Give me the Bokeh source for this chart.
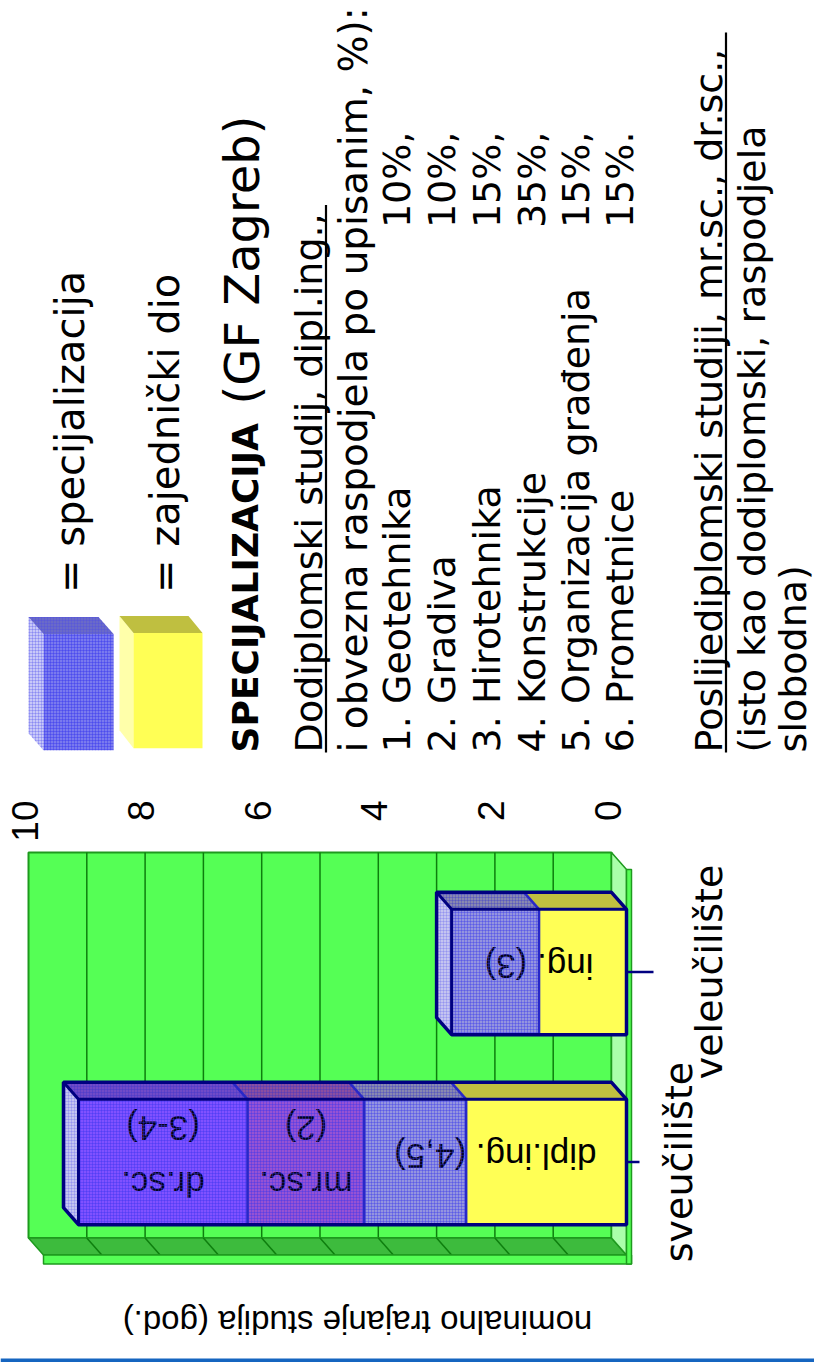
import math
from bokeh.plotting import figure
from bokeh.models import Range1d, LinearAxis, FixedTicker
from bokeh.layouts import column
from bokeh.core.properties import value
from bokeh.embed import file_html
from bokeh.resources import INLINE

# ---------------- data ----------------
categories = ["sveučilište", "veleučilište"]
zajednicki_dio = [2.75, 1.5]
specijalizacija = [1.75, 1.5]
mr_sc = [2.0, 0.0]
dr_sc = [2.9, 0.0]
bar_labels = ["dipl.ing. (4,5)", "ing. (3)"]
mr_labels = ["mr.sc.\n(2)", ""]
dr_labels = ["dr.sc.\n(3-4)", ""]
value_ticks = [0, 2, 4, 6, 8, 10]
value_max = 10
axis_title = "nominalno trajanje studija (god.)"
legend_labels = ["=  specijalizacija", "=  zajednički dio"]
spec_title = "SPECIJALIZACIJA"
spec_subtitle = "(GF Zagreb)"
dodipl_heading = "Dodiplomski studij, dipl.ing.,"
dodipl_intro = "i obvezna raspodjela po upisanim, %):"
smjerovi = ["1. Geotehnika", "2. Gradiva", "3. Hirotehnika", "4. Konstrukcije",
            "5. Organizacija građenja", "6. Prometnice"]
udjeli = ["10%,", "10%,", "15%,", "35%,", "15%,", "15%."]
poslijedipl_heading = "Poslijediplomski studiji, mr.sc., dr.sc.,"
poslijedipl_text = ["(isto kao dodiplomski, raspodjela", "slobodna)"]

# ---------------- layout constants ----------------
W = 814
H_TOP = 844
AXIS_H = 46
H_CHART = 518
CHART_Y0 = H_TOP

FRONT0_PX = 626.0      # screen x of value 0 (bar front plane)
PX_PER_V = 58.3
LBL0_PX = 607.0        # screen x of tick label 0
CAT0_PY = 1161.5
PY_PER_C = 190.0


def px2v(px):
    return (FRONT0_PX - px) / PX_PER_V


def py2c(py):
    return (CAT0_PY - py) / PY_PER_C


def lbl_v(px):
    return (LBL0_PX - px) / PX_PER_V


DV = 15.0 / PX_PER_V
DC = 17.0 / PY_PER_C
HW = 0.33
C_LO, C_HI = -0.49, 1.54

ROT_FONT = value("DejaVu Sans")
HOR_FONT = value("Liberation Sans")

# ---------------- top figure (legend + text) ----------------
top = figure(width=W, height=H_TOP, x_range=Range1d(0, W),
             y_range=Range1d(H_TOP - AXIS_H, 0),
             output_backend="svg", toolbar_location=None,
             x_axis_location=None, y_axis_location=None,
             min_border=0, outline_line_color=None)
top.grid.visible = False
top.extra_x_ranges = {"val": Range1d(lbl_v(0), lbl_v(W))}
ax = LinearAxis(x_range_name="val", ticker=FixedTicker(ticks=value_ticks),
                major_label_orientation=math.pi / 2,
                axis_line_color=None, major_tick_line_color=None,
                minor_tick_line_color=None, major_tick_out=0, major_tick_in=0,
                major_label_standoff=0,
                major_label_text_font="Liberation Sans",
                major_label_text_font_size="37px",
                major_label_text_color="black")
top.add_layout(ax, "below")

# legend cubes
top.patches(xs=[[28, 43, 43, 28], [28, 98, 113, 43]],
            ys=[[615, 632, 748, 731], [615, 615, 632, 632]],
            fill_color=["#C8C8F8", "#6A6AC8"], line_color=None,
            hatch_pattern="+", hatch_color="#4444EE", hatch_alpha=0.35,
            hatch_scale=3, hatch_weight=0.8)
top.quad(left=[43], right=[113], top=[632], bottom=[748], fill_color="#7A7AEE",
         line_color=None, hatch_pattern="+", hatch_color="#3333EE",
         hatch_alpha=0.5, hatch_scale=3, hatch_weight=0.8)
top.patches(xs=[[119, 133, 133, 119], [119, 188, 202, 133]],
            ys=[[614, 631, 746, 728], [614, 614, 631, 631]],
            fill_color=["#FFFFAA", "#BFBF40"], line_color=None)
top.quad(left=[133], right=[202], top=[631], bottom=[746], fill_color="#FFFF55",
         line_color=None)

rot = dict(angle=math.pi / 2, text_align="left", text_baseline="alphabetic",
           text_color="black", text_font=ROT_FONT)
top.text(x=[69, 164], y=[591, 591], text=legend_labels,
         text_font_size="40px", **rot)
top.text(x=[245], y=[750], text=[spec_title], text_font_size="36px",
         text_font_style="bold", **rot)
top.text(x=[241], y=[403], text=[spec_subtitle], text_font_size="48px", **rot)
top.text(x=[308], y=[750], text=[dodipl_heading], text_font_size="38px", **rot)
top.text(x=[353], y=[750], text=[dodipl_intro], text_font_size="39px", **rot)
list_x = [396, 441, 486, 531, 575, 619]
top.text(x=list_x, y=[750] * 6, text=smjerovi, text_font_size="38px", **rot)
top.text(x=list_x, y=[227] * 6, text=udjeli, text_font_size="38px", **rot)
top.text(x=[708, 751, 792], y=[750, 750, 750],
         text=[poslijedipl_heading] + poslijedipl_text,
         text_font_size="38px", **rot)
top.segment(x0=[325.5, 725.5], y0=[750, 750], x1=[325.5, 725.5], y1=[204, 32],
            line_color="black", line_width=2.2)

# ---------------- chart figure ----------------
chart = figure(width=W, height=H_CHART, x_range=Range1d(px2v(0), px2v(W)),
               y_range=Range1d(py2c(CHART_Y0 + H_CHART), py2c(CHART_Y0)),
               output_backend="svg", toolbar_location=None,
               x_axis_location=None, y_axis_location=None,
               min_border=0, outline_line_color=None)
chart.grid.visible = False

WALL_LINE = "#1E9A1E"
GRID_LINE = "#0E7E0E"
# back wall
chart.quad(left=[value_max + DV], right=[DV], bottom=[C_LO + DC], top=[C_HI + DC],
           fill_color="#55FF55", line_color=WALL_LINE, line_width=2)
grid_v = list(range(1, value_max))
chart.segment(x0=[g + DV for g in grid_v], y0=[C_LO + DC] * len(grid_v),
              x1=[g + DV for g in grid_v], y1=[C_HI + DC] * len(grid_v),
              line_color=GRID_LINE, line_width=1.5)
# side wall (bottom strip)
chart.patch(x=[value_max + DV, DV, 0, value_max], y=[C_LO + DC, C_LO + DC, C_LO, C_LO],
            fill_color="#3DBB3D", line_color=WALL_LINE, line_width=1.5)
chart.segment(x0=[g + DV for g in grid_v], y0=[C_LO + DC] * len(grid_v),
              x1=grid_v, y1=[C_LO] * len(grid_v), line_color=GRID_LINE, line_width=1.5)
# floor (right strip)
chart.patch(x=[DV, 0, 0, DV], y=[C_HI + DC, C_HI, C_LO, C_LO + DC],
            fill_color="#AAFFAA", line_color=WALL_LINE, line_width=1.5)
# rims
RIM_V = 5.0 / PX_PER_V
RIM_C = 9.0 / PY_PER_C
chart.quad(left=[value_max, 0], right=[-RIM_V, -RIM_V],
           bottom=[C_LO - RIM_C, C_LO - RIM_C], top=[C_LO, C_HI],
           fill_color="#55FF55", line_color=WALL_LINE, line_width=1.5)

# bars
series = [zajednicki_dio, specijalizacija, mr_sc, dr_sc]
front_colors = ["#FFFF55", "#A0A0DC", "#A256CE", "#8A55FF"]
top_colors = ["#BFBF40", "#8888B0", "#8A4EA0", "#6F4AC8"]
hatched = [False, True, True, True]

fq = dict(left=[], right=[], bottom=[], top=[], color=[])
hq = dict(left=[], right=[], bottom=[], top=[])
tp = dict(xs=[], ys=[], color=[])
htp = dict(xs=[], ys=[])
div = dict(x0=[], y0=[], x1=[], y1=[])
ends = []
for i, cat in enumerate(categories):
    start = 0.0
    for k, ser in enumerate(series):
        v = ser[i]
        if v <= 0:
            continue
        end = start + v
        fq["left"].append(end); fq["right"].append(start)
        fq["bottom"].append(i - HW); fq["top"].append(i + HW)
        fq["color"].append(front_colors[k])
        xs = [start, end, end + DV, start + DV]
        ys = [i + HW, i + HW, i + HW + DC, i + HW + DC]
        tp["xs"].append(xs); tp["ys"].append(ys); tp["color"].append(top_colors[k])
        if hatched[k]:
            hq["left"].append(end); hq["right"].append(start)
            hq["bottom"].append(i - HW); hq["top"].append(i + HW)
            htp["xs"].append(xs); htp["ys"].append(ys)
        if start > 0:
            div["x0"] += [start, start]; div["y0"] += [i - HW, i + HW]
            div["x1"] += [start, start + DV]; div["y1"] += [i + HW, i + HW + DC]
        start = end
    ends.append(start)

chart.quad(left=fq["left"], right=fq["right"], bottom=fq["bottom"], top=fq["top"],
           fill_color=fq["color"], line_color=None)
chart.patches(xs=tp["xs"], ys=tp["ys"], fill_color=tp["color"], line_color=None)
end_xs = [[e, e + DV, e + DV, e] for e in ends]
end_ys = [[i - HW, i - HW + DC, i + HW + DC, i + HW] for i in range(len(categories))]
chart.patches(xs=end_xs, ys=end_ys, fill_color="#C4C4F0", line_color=None,
              hatch_pattern="+", hatch_color="#5555EE", hatch_alpha=0.3,
              hatch_scale=3, hatch_weight=0.8)

# bar labels (upside down)
lab = dict(angle=math.pi, text_align="center", text_baseline="middle",
           text_color="black", text_font=HOR_FONT, text_font_size="35px",
           text_line_height=1.45)
lx, ly, lt = [], [], []
for i in range(len(categories)):
    z, s, m, d = zajednicki_dio[i], specijalizacija[i], mr_sc[i], dr_sc[i]
    lx.append((z + s) / 2); ly.append(i + 0.03); lt.append(bar_labels[i])
    if m > 0:
        lx.append(z + s + m / 2); ly.append(i + 0.03); lt.append(mr_labels[i])
    if d > 0:
        lx.append(z + s + m + d / 2); ly.append(i + 0.03); lt.append(dr_labels[i])
chart.text(x=lx, y=ly, text=lt, **lab)

# hatch overlays
chart.quad(left=hq["left"], right=hq["right"], bottom=hq["bottom"], top=hq["top"],
           fill_color="#3333FF", fill_alpha=0.1, line_color=None,
           hatch_pattern="+", hatch_color="#3333EE", hatch_alpha=0.45,
           hatch_scale=3, hatch_weight=0.8)
chart.patches(xs=htp["xs"], ys=htp["ys"], fill_alpha=0, line_color=None,
              hatch_pattern="+", hatch_color="#3333CC", hatch_alpha=0.4,
              hatch_scale=3, hatch_weight=0.8)

# dividers and outlines
chart.segment(x0=div["x0"], y0=div["y0"], x1=div["x1"], y1=div["y1"],
              line_color="#2828C8", line_width=2.5)
for i, e in enumerate(ends):
    chart.patch(x=[0, e, e + DV, e + DV, DV, 0],
                y=[i - HW, i - HW, i - HW + DC, i + HW + DC, i + HW + DC, i + HW],
                fill_alpha=0, line_color="#000080", line_width=3.5)
    chart.line(x=[0, e, e + DV], y=[i + HW, i + HW, i + HW + DC],
               line_color="#000080", line_width=3)
    chart.line(x=[e, e], y=[i - HW, i + HW], line_color="#000080", line_width=3)

# category ticks and labels
CAT_TICK_END = [px2v(639), px2v(653)]
CAT_LABEL_X = [px2v(678), px2v(708)]
chart.segment(x0=[px2v(627)] * len(categories), y0=list(range(len(categories))),
              x1=CAT_TICK_END, y1=list(range(len(categories))),
              line_color="#000080", line_width=2.5)
chart.text(x=CAT_LABEL_X, y=list(range(len(categories))), text=categories,
           angle=math.pi / 2, text_align="center", text_baseline="alphabetic",
           text_font=ROT_FONT, text_font_size="38px", text_color="black")

# axis title (upside down)
chart.text(x=[px2v(357)], y=[py2c(1322)], text=[axis_title], angle=math.pi,
           text_align="center", text_baseline="middle", text_font=HOR_FONT,
           text_font_size="33px", text_color="black")

# slide footer strip
chart.quad(left=[px2v(0)], right=[px2v(W)], top=[py2c(1358)], bottom=[py2c(1362)],
           fill_color="#1565C0", line_color=None)

layout = column(top, chart, spacing=0)
open("out.html", "w").write(file_html(layout, INLINE))
